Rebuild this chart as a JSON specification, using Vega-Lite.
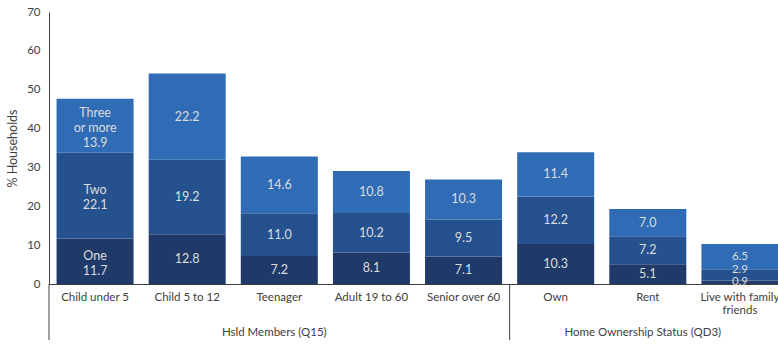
{
  "$schema": "https://vega.github.io/schema/vega-lite/v6.json",
  "width": 737,
  "height": 272,
  "autosize": {"type": "none"},
  "padding": {"left": 49, "top": 12, "right": 0, "bottom": 60},
  "config": {
    "view": {"stroke": null},
    "font": "Lato",
    "text": {"color": "#dcdcdc", "fontSize": 12.5, "lineBreak": "\n", "lineHeight": 15, "baseline": "middle"}
  },
  "datasets": {
    "bars": [
      {"category": "Child under 5", "series": "One", "order": 1, "value": 11.7, "label": "One\n11.7"},
      {"category": "Child under 5", "series": "Two", "order": 2, "value": 22.1, "label": "Two\n22.1"},
      {"category": "Child under 5", "series": "Three or more", "order": 3, "value": 13.9, "label": "Three\nor more\n13.9"},
      {"category": "Child 5 to 12", "series": "One", "order": 1, "value": 12.8, "label": "12.8"},
      {"category": "Child 5 to 12", "series": "Two", "order": 2, "value": 19.2, "label": "19.2"},
      {"category": "Child 5 to 12", "series": "Three or more", "order": 3, "value": 22.2, "label": "22.2"},
      {"category": "Teenager", "series": "One", "order": 1, "value": 7.2, "label": "7.2"},
      {"category": "Teenager", "series": "Two", "order": 2, "value": 11.0, "label": "11.0"},
      {"category": "Teenager", "series": "Three or more", "order": 3, "value": 14.6, "label": "14.6"},
      {"category": "Adult 19 to 60", "series": "One", "order": 1, "value": 8.1, "label": "8.1"},
      {"category": "Adult 19 to 60", "series": "Two", "order": 2, "value": 10.2, "label": "10.2"},
      {"category": "Adult 19 to 60", "series": "Three or more", "order": 3, "value": 10.8, "label": "10.8"},
      {"category": "Senior over 60", "series": "One", "order": 1, "value": 7.1, "label": "7.1"},
      {"category": "Senior over 60", "series": "Two", "order": 2, "value": 9.5, "label": "9.5"},
      {"category": "Senior over 60", "series": "Three or more", "order": 3, "value": 10.3, "label": "10.3"},
      {"category": "Own", "series": "One", "order": 1, "value": 10.3, "label": "10.3"},
      {"category": "Own", "series": "Two", "order": 2, "value": 12.2, "label": "12.2"},
      {"category": "Own", "series": "Three or more", "order": 3, "value": 11.4, "label": "11.4"},
      {"category": "Rent", "series": "One", "order": 1, "value": 5.1, "label": "5.1"},
      {"category": "Rent", "series": "Two", "order": 2, "value": 7.2, "label": "7.2"},
      {"category": "Rent", "series": "Three or more", "order": 3, "value": 7.0, "label": "7.0"},
      {"category": "Live with family friends", "series": "One", "order": 1, "value": 0.9, "label": "0.9"},
      {"category": "Live with family friends", "series": "Two", "order": 2, "value": 2.9, "label": "2.9"},
      {"category": "Live with family friends", "series": "Three or more", "order": 3, "value": 6.5, "label": "6.5"}
    ],
    "groups": [
      {"category": "Teenager", "group": "Hsld Members (Q15)"},
      {"category": "Rent", "group": "Home Ownership Status (QD3)"}
    ],
    "lines": [
      {"category": "Child under 5"},
      {"category": "Own"}
    ]
  },
  "layer": [
    {
      "data": {"name": "bars"},
      "mark": {"type": "bar"},
      "encoding": {
        "x": {
          "field": "category", "type": "nominal",
          "scale": {
            "domain": ["Child under 5", "Child 5 to 12", "Teenager", "Adult 19 to 60", "Senior over 60", "Own", "Rent", "Live with family friends"],
            "paddingInner": 0.164, "paddingOuter": 0.082
          },
          "axis": {
            "title": null, "labelAngle": 0, "ticks": false, "labelPadding": 7,
            "labelFontSize": 11.5, "labelColor": "#404040", "domainColor": "#404040",
            "labelExpr": "datum.value == 'Live with family friends' ? ['Live with family', 'friends'] : datum.value",
            "labelLineHeight": 13
          }
        },
        "y": {
          "field": "value", "type": "quantitative", "stack": "zero",
          "scale": {"domain": [0, 70], "nice": false},
          "axis": {
            "title": "% Households", "values": [0, 10, 20, 30, 40, 50, 60, 70], "grid": false, "ticks": false,
            "labelPadding": 9, "labelFontSize": 11.5, "labelColor": "#404040", "domainColor": "#404040",
            "titleFontSize": 12.5, "titleFontWeight": "normal", "titleColor": "#404040", "titlePadding": 7,
            "labelOverlap": false
          }
        },
        "order": {"field": "order", "type": "quantitative"},
        "color": {
          "field": "series", "type": "nominal",
          "scale": {"domain": ["One", "Two", "Three or more"], "range": ["#1f3a68", "#25528f", "#2f6cb5"]},
          "legend": null
        }
      }
    },
    {
      "data": {"name": "bars"},
      "transform": [
        {"stack": "value", "groupby": ["category"], "sort": [{"field": "order"}], "as": ["y0", "y1"]},
        {"calculate": "(datum.y0 + datum.y1) / 2", "as": "mid"}
      ],
      "encoding": {
        "x": {
          "field": "category", "type": "nominal",
          "axis": {
            "title": null, "labelAngle": 0, "ticks": false, "labelPadding": 7,
            "labelFontSize": 11.5, "labelColor": "#404040", "domainColor": "#404040",
            "labelExpr": "datum.value == 'Live with family friends' ? ['Live with family', 'friends'] : datum.value",
            "labelLineHeight": 13
          }
        },
        "y": {
          "field": "mid", "type": "quantitative",
          "axis": {
            "title": "% Households", "values": [0, 10, 20, 30, 40, 50, 60, 70], "grid": false, "ticks": false,
            "labelPadding": 9, "labelFontSize": 11.5, "labelColor": "#404040", "domainColor": "#404040",
            "titleFontSize": 12.5, "titleFontWeight": "normal", "titleColor": "#404040", "titlePadding": 7,
            "labelOverlap": false
          }
        },
        "text": {"field": "label"}
      },
      "layer": [
        {
          "transform": [{"filter": "datum.category == 'Child under 5' && datum.series == 'Three or more'"}],
          "mark": {"type": "text", "dy": -13}
        },
        {
          "transform": [{"filter": "datum.category == 'Child under 5' && datum.series != 'Three or more'"}],
          "mark": {"type": "text", "dy": -5.5}
        },
        {
          "transform": [{"filter": "datum.category == 'Live with family friends' && datum.series == 'Two'"}],
          "mark": {"type": "text", "dy": -5, "fontSize": 11.5}
        },
        {
          "transform": [{"filter": "datum.category == 'Live with family friends' && datum.series != 'Two'"}],
          "mark": {"type": "text", "fontSize": 11.5}
        },
        {
          "transform": [{"filter": "datum.category != 'Child under 5' && datum.category != 'Live with family friends'"}],
          "mark": {"type": "text"}
        }
      ]
    },
    {
      "data": {"name": "lines"},
      "mark": {"type": "rule", "color": "#404040", "strokeWidth": 1},
      "encoding": {
        "x": {
          "field": "category", "type": "nominal", "bandPosition": -0.098,
          "axis": {
            "title": null, "labelAngle": 0, "ticks": false, "labelPadding": 7,
            "labelFontSize": 11.5, "labelColor": "#404040", "domainColor": "#404040",
            "labelExpr": "datum.value == 'Live with family friends' ? ['Live with family', 'friends'] : datum.value",
            "labelLineHeight": 13
          }
        },
        "y": {
          "datum": 0,
          "axis": {
            "title": "% Households", "values": [0, 10, 20, 30, 40, 50, 60, 70], "grid": false, "ticks": false,
            "labelPadding": 9, "labelFontSize": 11.5, "labelColor": "#404040", "domainColor": "#404040",
            "titleFontSize": 12.5, "titleFontWeight": "normal", "titleColor": "#404040", "titlePadding": 7,
            "labelOverlap": false
          }
        },
        "y2": {"datum": -14.4}
      }
    },
    {
      "data": {"name": "groups"},
      "mark": {"type": "text", "fontSize": 11.5, "color": "#404040", "baseline": "middle", "dx": -5},
      "encoding": {
        "x": {
          "field": "category", "type": "nominal",
          "axis": {
            "title": null, "labelAngle": 0, "ticks": false, "labelPadding": 7,
            "labelFontSize": 11.5, "labelColor": "#404040", "domainColor": "#404040",
            "labelExpr": "datum.value == 'Live with family friends' ? ['Live with family', 'friends'] : datum.value",
            "labelLineHeight": 13
          }
        },
        "y": {
          "datum": -12.6,
          "axis": {
            "title": "% Households", "values": [0, 10, 20, 30, 40, 50, 60, 70], "grid": false, "ticks": false,
            "labelPadding": 9, "labelFontSize": 11.5, "labelColor": "#404040", "domainColor": "#404040",
            "titleFontSize": 12.5, "titleFontWeight": "normal", "titleColor": "#404040", "titlePadding": 7,
            "labelOverlap": false
          }
        },
        "text": {"field": "group"}
      }
    }
  ]
}
